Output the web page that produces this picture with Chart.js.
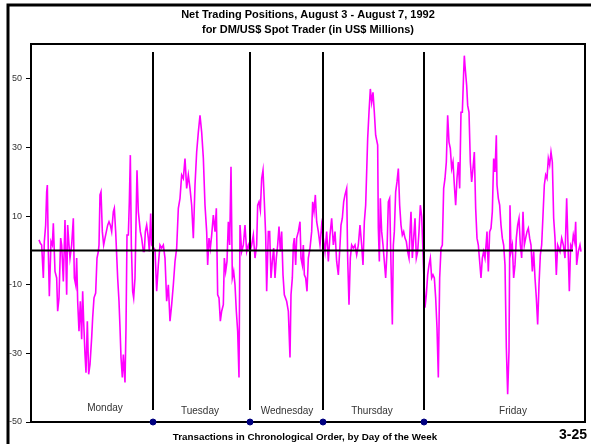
<!DOCTYPE html>
<html>
<head>
<meta charset="utf-8">
<script src="https://cdn.jsdelivr.net/npm/chart.js@4.4.1/dist/chart.umd.min.js"></script>
<style>
  body { margin: 0; background: #fff; }
  canvas { display: block; }
</style>
</head>
<body>
<canvas id="grafico" width="591" height="444"></canvas>
<script>
// transaction number (chronological) and net position in US$ millions
const transacciones = [
  27, 31, 35, 40, 43, 47, 50, 52, 55, 58, 63, 67, 70, 75, 80, 83, 87, 92, 95, 100,
  105, 110, 113, 117, 120, 125, 130, 133, 137, 140, 143, 147, 151, 155, 158, 161, 165, 168, 172, 176,
  180, 185, 188, 192, 197, 201, 205, 207, 210, 213, 217, 221, 225, 229, 233, 237, 241, 245, 250, 253,
  257, 263, 267, 270, 273, 277, 280, 285, 288, 291, 295, 298, 301, 304, 308, 311, 315, 319, 321, 325,
  328, 331, 335, 340, 343, 346, 350, 355, 358, 362, 365,
  375, 380, 385, 390, 395, 400, 405, 410, 415, 420, 425, 430, 435, 440, 445, 450, 455, 460, 465, 470,
  475, 480, 485, 490, 495, 500, 505, 510, 515, 520, 525, 530, 533, 537, 541, 545, 550, 555, 559, 563,
  567, 571, 575, 580, 583, 587, 591, 595, 599, 603, 607, 611, 615, 619, 623, 627, 630, 635, 640, 645,
  650, 655,
  660, 665, 670, 675, 680, 683, 687, 691, 695, 699, 703, 707, 710, 715, 719, 723, 727, 731, 735, 739,
  743, 747, 751, 755, 759, 763, 770, 775, 780, 783, 787, 790, 793, 797, 800, 805, 810, 813, 817, 820,
  823, 827, 831, 835, 840, 845, 848, 852, 856, 860, 865, 870, 875,
  885, 890, 895, 900, 905, 910, 915, 920, 925, 930, 933, 937, 941, 945, 950, 953, 957, 961, 965, 970,
  975, 980, 985, 990, 995, 999, 1003, 1007, 1010, 1013, 1017, 1021, 1025, 1029, 1033, 1037, 1043, 1045, 1048, 1051,
  1055, 1059, 1063, 1067, 1071, 1075, 1079, 1083, 1087, 1090, 1093, 1097, 1101, 1105, 1109, 1113, 1117, 1121, 1125, 1129,
  1133, 1137, 1140, 1143, 1147, 1151, 1155, 1159, 1163, 1167, 1171, 1175,
  1185, 1189, 1193, 1197, 1201, 1205, 1209, 1213, 1217, 1221, 1225, 1229, 1233, 1237, 1241, 1245, 1249, 1253, 1257, 1261,
  1265, 1269, 1273, 1277, 1281, 1285, 1289, 1293, 1297, 1301, 1303, 1305, 1310, 1313, 1317, 1321, 1325, 1329, 1333, 1337,
  1341, 1345, 1349, 1353, 1357, 1361, 1365, 1369, 1371, 1375, 1379, 1383, 1387, 1391, 1395, 1399, 1401, 1405, 1409, 1413,
  1417, 1421, 1425, 1429, 1433, 1437, 1440, 1443, 1447, 1451, 1455, 1459, 1463, 1467, 1471, 1475, 1479, 1483, 1487, 1491,
  1495, 1499, 1503, 1507, 1511, 1515, 1519, 1523, 1527, 1531, 1535, 1539, 1543, 1547, 1551, 1555, 1559, 1563, 1567, 1571,
  1575, 1579, 1583, 1590, 1595, 1600, 1605, 1610, 1614, 1618, 1622, 1626, 1630, 1634, 1637, 1640, 1645, 1650, 1653
];
const posicionNeta = [
  3.1, 2.1, 1.6, -8.0, 2.6, 7.4, 17.1, 19.1, -0.3, -13.3, 2.6, 1.6, 7.9, -6.1, -8.0, -17.7, -13.8, 3.6, 1.6, -9.0,
  8.9, -12.9, 7.4, 1.6, -2.2, 1.6, 9.4, -8.0, -10.0, -2.2, -14.8, -23.5, -14.8, -25.9, -11.9, -20.6, -30.3, -35.6, -20.6, -36.1,
  -33.2, -25.4, -19.6, -13.8, -12.4, -2.2, -0.3, 1.6, 16.2, 17.1, 5.5, 1.6, 3.6, 5.5, 7.4, 8.4, 7.4, 5.5, 11.3, 12.3,
  5.5, -8.0, -14.8, -22.5, -31.2, -37.0, -30.3, -38.5, -22.5, 4.5, 4.5, 14.2, 27.8, 1.6, -11.9, -13.8, -8.0, 13.2, 23.4, 11.3,
  8.4, 5.5, 3.6, -0.3, -0.3, 5.5, 7.4, 3.6, -0.3, 10.8, 1.6,
  0.2, -11.9, -4.2, 1.6, 0.7, 1.6, -2.2, -14.8, -10.0, -20.6, -15.8, -10.0, -3.2, 0.7, 12.3, 15.2, 22.0, 21.0, 26.8, 18.1,
  22.0, 18.1, 13.2, 3.6, 19.1, 28.7, 34.5, 39.4, 34.5, 27.0, 13.2, 5.5, -4.2, 3.6, 0.7, 4.5, 10.3, 5.5, 12.3, -12.9,
  -13.8, -20.6, -17.7, -15.8, -2.2, -6.1, -3.2, 8.4, 1.6, 24.4, -8.0, -6.1, -10.0, -17.7, -23.5, -37.0, 7.4, -0.3, 1.6, 7.4,
  -0.3, 1.6,
  -0.3, 1.6, 4.5, -2.2, 1.6, 13.2, 14.2, 11.8, 21.0, 23.4, 14.2, 4.5, -11.9, 5.5, 5.5, -8.0, -3.2, 0.7, -8.0, -2.2,
  1.6, 7.0, -0.3, 5.5, -7.1, -12.9, -14.8, -17.7, -31.2, -12.9, -8.0, 1.6, 3.6, -4.2, 3.6, 5.5, 8.4, -2.2, -4.2, 1.6,
  -7.1, -8.0, -11.9, -2.2, 0.7, 5.5, 14.2, 11.3, 16.2, 8.4, 5.5, 1.6, 7.4,
  -0.3, 5.5, -3.2, 4.5, 9.4, 1.6, 5.5, -3.2, -7.1, 1.6, 7.4, 9.4, 14.2, 16.2, 18.1, -2.2, -15.8, -2.2, 1.6, 0.7,
  1.6, -1.3, 1.6, 7.4, 1.6, -4.2, 8.4, 13.2, 22.9, 32.6, 40.3, 47.1, 43.2, 46.1, 40.3, 33.6, 30.7, 6.5, -3.2, 15.2,
  5.5, 1.6, -3.2, -8.0, -0.3, 14.2, 15.2, -4.2, -21.6, 1.6, 5.5, 17.1, 20.0, 23.9, 13.2, 7.4, 4.5, 5.5, 3.6, 2.6,
  -0.3, -2.2, 5.5, 11.3, -2.2, 3.6, 9.4, -2.2, -0.3, 5.5, 13.2, 10.0,
  -16.7, -12.9, -7.1, -4.2, -2.2, -8.0, -7.1, -8.0, -13.8, -22.5, -37.0, -8.0, 0.7, 1.6, 18.1, 21.0, 25.8, 39.4, 31.6, 29.7,
  23.9, 25.8, 19.1, 13.2, 21.0, 25.8, 18.1, 40.3, 40.3, 51.9, 56.8, 53.9, 48.1, 42.3, 40.3, 25.8, 20.0, 23.9, 28.7, 12.3,
  3.6, 1.6, -3.2, -8.0, -2.2, -0.3, -2.2, 2.6, 5.5, -6.1, 5.5, 6.5, 11.3, 26.8, 22.9, 33.6, 19.1, 15.2, 13.2, 7.4,
  3.6, 1.6, -4.2, -28.3, -41.9, -29.3, 13.2, -0.3, 1.6, -8.0, -4.2, 3.6, 7.4, 9.4, 1.6, -2.2, 11.3, 1.6, 3.6, 5.5,
  6.5, 3.6, 1.6, -6.1, -0.3, -8.0, -13.8, -21.6, -10.0, -1.3, 1.6, 10.3, 19.1, 22.0, 21.0, 26.8, 24.9, 28.7, 25.8, 9.4,
  3.6, -7.1, 1.6, -0.3, 3.6, 1.6, -2.2, 15.2, 1.6, -11.9, 1.6, 0.7, 4.5, 2.6, 8.4, -4.2, -0.3, 1.6, -0.3
];

const titulo = ['Net Trading Positions, August 3 - August 7, 1992', 'for DM/US$ Spot Trader (in US$ Millions)'];
const dias = ['Monday', 'Tuesday', 'Wednesday', 'Thursday', 'Friday'];
const centroDias = [225, 510, 771, 1026, 1449];     // transaction where each day name sits
const cortesDias = [369, 660, 879, 1182];           // first transaction of the next day
const ticksY = [50, 30, 10, -10, -30, -50];

const puntos = transacciones.map((t, i) => ({ x: t, y: posicionNeta[i] }));
const fuente = '"Liberation Sans", Arial, sans-serif';

// title, lines, frame and day names drawn with the chart scales
const decoracion = {
    id: 'decoracion',
    afterDatasetsDraw(chart) {
        const ctx = chart.ctx;
        const area = chart.chartArea;
        const x = chart.scales.x;
        const y = chart.scales.y;
        ctx.save();
        ctx.strokeStyle = '#000';

        // outer frame of the page
        ctx.lineWidth = 3;
        ctx.strokeRect(8, 5, 600, 460);

        // plot box top and right side
        ctx.lineWidth = 2;
        ctx.beginPath();
        ctx.moveTo(area.left, area.top);
        ctx.lineTo(area.right, area.top);
        ctx.lineTo(area.right, area.bottom);
        ctx.stroke();

        // zero line
        ctx.beginPath();
        ctx.moveTo(area.left, y.getPixelForValue(0));
        ctx.lineTo(area.right - 12, y.getPixelForValue(0));
        ctx.stroke();

        // day separators
        cortesDias.forEach(c => {
            const px = Math.round(x.getPixelForValue(c));
            ctx.beginPath();
            ctx.moveTo(px, area.top + 8);
            ctx.lineTo(px, area.bottom - 12);
            ctx.stroke();
        });

        // title
        ctx.fillStyle = '#000';
        ctx.textAlign = 'center';
        ctx.textBaseline = 'middle';
        ctx.font = 'bold 11px ' + fuente;
        titulo.forEach((linea, i) => ctx.fillText(linea, 308, 14.5 + i * 15));

        // x axis caption
        ctx.font = 'bold 9.8px ' + fuente;
        ctx.fillText('Transactions in Chronological Order, by Day of the Week', 305, 437);

        // day names
        ctx.fillStyle = '#333';
        ctx.font = '10px ' + fuente;
        dias.forEach((d, i) => {
            ctx.fillText(d, x.getPixelForValue(centroDias[i]), area.bottom - (i === 0 ? 14 : 11));
        });

        // page number
        ctx.fillStyle = '#000';
        ctx.font = 'bold 14px ' + fuente;
        ctx.textAlign = 'right';
        ctx.fillText('3-25', 587, 435);
        ctx.restore();
    }
};

new Chart(document.getElementById('grafico'), {
    type: 'line',
    data: {
        datasets: [{
            data: puntos,
            borderColor: '#ff00ff',
            borderWidth: 1.6,
            pointRadius: 0,
            tension: 0
        }, {
            type: 'scatter',
            data: cortesDias.map(c => ({ x: c, y: -50 })),
            backgroundColor: '#000080',
            borderColor: '#000080',
            pointRadius: 3,
            clip: false
        }]
    },
    options: {
        responsive: false,
        devicePixelRatio: 1,
        animation: false,
        layout: { padding: { top: 44, right: 6 } },
        plugins: {
            legend: { display: false },
            tooltip: { enabled: false },
            title: { display: false }
        },
        scales: {
            x: {
                type: 'linear',
                min: 3,
                max: 1665,
                afterFit: s => { s.height = 22; },
                grid: { display: false, drawTicks: false },
                border: { display: true, color: '#000', width: 2 },
                ticks: { display: false }
            },
            y: {
                min: -50,
                max: 60.2,
                afterFit: s => { s.width = 31; },
                afterBuildTicks: s => { s.ticks = ticksY.map(v => ({ value: v })); },
                grid: { drawOnChartArea: false, drawTicks: true, tickLength: 5, color: '#000', lineWidth: 1 },
                border: { display: true, color: '#000', width: 2 },
                ticks: {
                    padding: 4,
                    color: '#333',
                    font: { family: fuente, size: 9 }
                }
            }
        }
    },
    plugins: [decoracion]
});
</script>
</body>
</html>
